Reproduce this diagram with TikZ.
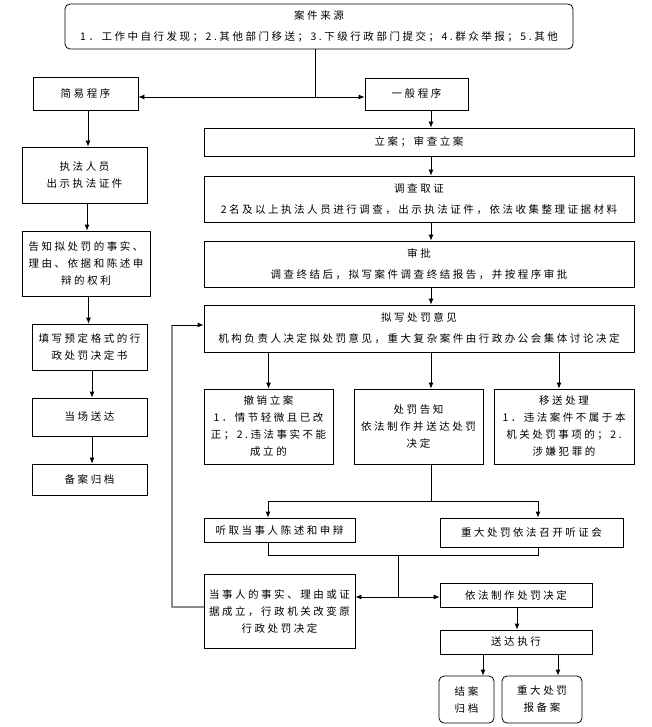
\documentclass[tikz,border=0pt]{standalone}
\usepackage{fontspec}
\setmainfont{Noto Sans CJK SC}[LetterSpace=24]
\usetikzlibrary{arrows.meta,positioning,calc}
\definecolor{linecolor}{rgb}{0,0,0}
\definecolor{backcolor}{gray}{0.55}
\tikzset{
	block/.style={
		rectangle,
		draw=linecolor,
		line width=0.8pt,
		fill=white,
		align=center,
		inner sep=1pt,
		font=\fontsize{10.5}{17}\selectfont
	},
	wideblock/.style={
		block,
		font=\fontsize{10.5}{21}\selectfont
	},
	rblock/.style={
		block,
		rounded corners=5pt
	},
	arrow/.style={
		draw=linecolor,
		line width=0.8pt,
		-{Latex[length=6pt,width=5pt]}
	},
	link/.style={
		draw=linecolor,
		line width=0.8pt
	},
	backlink/.style={
		draw=backcolor,
		line width=1.3pt
	},
}

\begin{document}
\begin{tikzpicture}[x=1pt,y=-1pt]
\useasboundingbox (0,0) rectangle (652,727);
% anchors
\coordinate (split) at (315,97);
\coordinate (spine) at (431,0);
% top
\node [rblock,wideblock,rounded corners=5pt,minimum width=508,minimum height=45] (src) at (319,26.5)
	{案件来源\\1．工作中自行发现；2.其他部门移送；3.下级行政部门提交；4.群众举报；5.其他};
\node [block,minimum width=105,minimum height=33] (jianyi) at (85.5,93.5) {简易程序};
\node [block,minimum width=103,minimum height=32] (yiban) at (416.5,94) {一般程序};
% simple procedure
\node [block,minimum width=125,minimum height=56] (zhifa) at (84.5,175) {执法人员\\出示执法证件};
\node [block,minimum width=128,minimum height=65] (gaozhi) at (86,263.5) {告知拟处罚的事实、\\理由、依据和陈述申\\辩的权利};
\node [block,minimum width=115,minimum height=46] (tianxie) at (89.5,347) {填写预定格式的行\\政处罚决定书};
\node [block,minimum width=115,minimum height=38] (dangchang) at (89.5,417) {当场送达};
\node [block,minimum width=115,minimum height=31] (guidang) at (89.5,479.5) {备案归档};
% general procedure
\node [block,minimum width=430,minimum height=28] (lian) at (419,142) {立案；审查立案};
\node [wideblock,minimum width=430,minimum height=46] (diaocha) at (419,199)
	{调查取证\\2名及以上执法人员进行调查，出示执法证件，依法收集整理证据材料};
\node [wideblock,minimum width=430,minimum height=46] (shenpi) at (419,264)
	{审批\\调查终结后，拟写案件调查终结报告，并按程序审批};
\node [wideblock,minimum width=430,minimum height=47] (nixie) at (419,328.5)
	{拟写处罚意见\\机构负责人决定拟处罚意见，重大复杂案件由行政办公会集体讨论决定};
\node [block,minimum width=129,minimum height=75] (chexiao) at (268.5,426.5)
	{撤销立案\\1．情节轻微且已改\\正；2.违法事实不能\\成立的};
\node [block,minimum width=129,minimum height=75] (chufa) at (418.5,426.5)
	{处罚告知\\依法制作并送达处罚\\决定};
\node [block,minimum width=140,minimum height=75] (yisong) at (564,426.5)
	{移送处理\\1．违法案件不属于本\\机关处罚事项的；2.\\涉嫌犯罪的};
\node [block,minimum width=151,minimum height=24] (tingqu) at (279.5,530) {听取当事人陈述和申辩};
\node [block,minimum width=183,minimum height=29] (tingzheng) at (531.5,532.5) {重大处罚依法召开听证会};
\node [block,minimum width=151,minimum height=74] (gaibian) at (279.5,611)
	{当事人的事实、理由或证\\据成立，行政机关改变原\\行政处罚决定};
\node [block,minimum width=152,minimum height=24] (zhizuo) at (516,595) {依法制作处罚决定};
\node [block,minimum width=152,minimum height=24] (zhixing) at (516,642) {送达执行};
\node [rblock,minimum width=55,minimum height=47] (jiean) at (466.5,699.5) {结案\\归档};
\node [rblock,minimum width=80,minimum height=47] (baobei) at (542,699.5) {重大处罚\\报备案};

% top split
\draw [link] (src.south -| split) -- (split);
\draw [arrow] (split) -- (split -| jianyi.east);
\draw [arrow] (split) -- (split -| yiban.west);
% simple chain
\foreach \a/\b in {jianyi/zhifa,zhifa/gaozhi,gaozhi/tianxie,tianxie/dangchang,dangchang/guidang}
	\draw [arrow] ($(\a.south)+(2.5,0)$) -- ($(\a.south |- \b.north)+(2.5,0)$);
% general chain
\foreach \a/\b in {yiban/lian,lian/diaocha,diaocha/shenpi,shenpi/nixie}
	\draw [arrow] (\a.south -| spine) -- (\b.north -| spine);
\draw [arrow] (nixie.south -| chexiao.north) -- (chexiao.north);
\draw [arrow] (nixie.south -| spine) -- (chufa.north -| spine);
\draw [arrow] (nixie.south -| 559,0) -- (chufa.north -| 559,0);
% hearing
\coordinate (fork) at (431,501);
\draw [link] (chufa.south -| fork) -- (fork);
\draw [link] (268,501) -- (538,501);
\draw [arrow] (268,501) -- (tingqu.north -| 268,0);
\draw [arrow] (538,501) -- (tingzheng.north -| 538,0);
\coordinate (merge) at (398,555);
\draw [link] (tingqu.south -| 268,0) -- (268,555) -- (538,555) -- (tingzheng.south -| 538,0);
\draw [link] (merge) -- (398,597);
\draw [arrow] (398,597) -- (398,597 -| gaibian.east);
\draw [arrow] (398,597) -- (398,597 -| zhizuo.west);
% feedback
\draw [backlink] (gaibian.west |- 0,607) -- (172,607) -- (172,325);
\draw [arrow] (172,325) -- (172,325 -| nixie.west);
% end
\draw [arrow] (zhizuo.south -| 517,0) -- (zhixing.north -| 517,0);
\draw [arrow] (zhixing.south -| 483,0) -- (jiean.north -| 483,0);
\draw [arrow] (zhixing.south -| 558,0) -- (baobei.north -| 558,0);
\end{tikzpicture}
\end{document}
